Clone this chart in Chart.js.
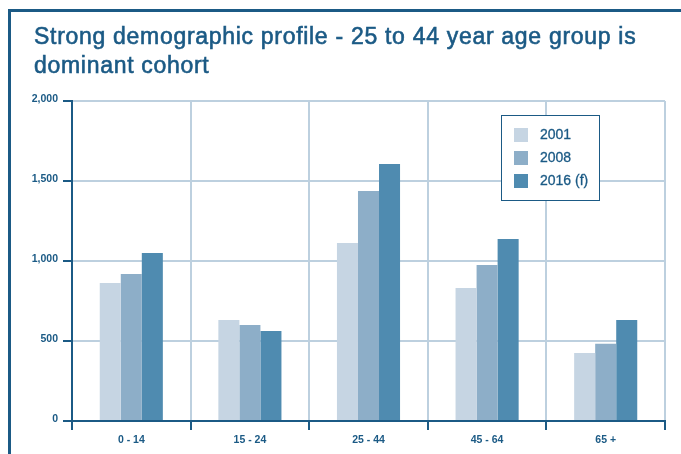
<!DOCTYPE html>
<html>
<head>
<meta charset="utf-8">
<script src="https://cdn.jsdelivr.net/npm/chart.js@4"></script>
<style>
  html, body { margin: 0; padding: 0; background: #fff; }
  #wrap { width: 681px; height: 454px; }
</style>
</head>
<body>
<div id="wrap"><canvas id="mainChart" width="681" height="454"></canvas></div>
<script>
// Données
const categories = ['0 - 14', '15 - 24', '25 - 44', '45 - 64', '65 +'];
const seriesLabels = ['2001', '2008', '2016 (f)'];
const values2001 = [862, 631, 1112, 831, 425];
const values2008 = [919, 600, 1437, 975, 483];
const values2016 = [1050, 562, 1606, 1137, 631];
const yTicks = [0, 500, 1000, 1500, 2000];
const titleLines = ['Strong demographic profile - 25 to 44 year age group is', 'dominant cohort'];

const darkBlue = '#1b5a85';
const gridBlue = '#bdd0df';
const barColors = ['#c6d5e3', '#8daec8', '#4f8bb0'];

// cadre + titre
const framePlugin = {
    id: 'frame',
    beforeDraw(chart) {
        const ctx = chart.ctx;
        ctx.save();
        ctx.fillStyle = '#fff';
        ctx.fillRect(0, 0, chart.width, chart.height);
        ctx.strokeStyle = darkBlue;
        ctx.lineWidth = 3;
        ctx.beginPath();
        ctx.moveTo(9.5, chart.height + 2);
        ctx.lineTo(9.5, 10.5);
        ctx.lineTo(chart.width + 2, 10.5);
        ctx.stroke();
        ctx.fillStyle = darkBlue;
        ctx.strokeStyle = darkBlue;
        ctx.lineWidth = 0.6;
        ctx.font = '23px "Liberation Sans", Arial, sans-serif';
        ctx.letterSpacing = '0.7px';
        ctx.textBaseline = 'alphabetic';
        titleLines.forEach((line, i) => {
            ctx.fillText(line, 34, 44 + i * 29);
            ctx.strokeText(line, 34, 44 + i * 29);
        });
        ctx.restore();
    }
};

// légende dans un cadre
const boxLegendPlugin = {
    id: 'boxLegend',
    afterDraw(chart) {
        const ctx = chart.ctx;
        const x = 501, y = 115, w = 98, h = 85;
        ctx.save();
        ctx.fillStyle = '#fff';
        ctx.fillRect(x, y, w, h);
        ctx.strokeStyle = darkBlue;
        ctx.lineWidth = 1;
        ctx.strokeRect(x + 0.5, y + 0.5, w, h);
        ctx.font = '14px "Liberation Sans", Arial, sans-serif';
        ctx.textBaseline = 'middle';
        chart.data.datasets.forEach((ds, i) => {
            const cy = 135 + i * 23;
            ctx.fillStyle = ds.backgroundColor;
            ctx.fillRect(514, cy - 7, 14, 14);
            ctx.fillStyle = darkBlue;
            ctx.strokeStyle = darkBlue;
            ctx.lineWidth = 0.3;
            ctx.fillText(ds.label, 540, cy);
            ctx.strokeText(ds.label, 540, cy);
        });
        ctx.restore();
    }
};

const seriesValues = [values2001, values2008, values2016];

const chart = new Chart(document.getElementById('mainChart').getContext('2d'), {
    type: 'bar',
    data: {
        labels: categories,
        datasets: seriesLabels.map((label, i) => ({
            label: label,
            data: seriesValues[i],
            backgroundColor: barColors[i],
            borderWidth: 0,
            categoryPercentage: 0.532,
            barPercentage: 1
        }))
    },
    options: {
        responsive: false,
        animation: false,
        layout: { padding: { left: 0, right: 16, top: 101, bottom: 0 } },
        plugins: {
            legend: { display: false },
            tooltip: { enabled: false }
        },
        scales: {
            x: {
                afterFit: (scale) => { scale.height = 33; },
                grid: {
                    offset: true,
                    color: gridBlue,
                    lineWidth: 2,
                    tickColor: darkBlue,
                    tickWidth: 2,
                    tickLength: 9
                },
                border: { color: darkBlue, width: 2 },
                ticks: {
                    color: darkBlue,
                    padding: 4,
                    font: { family: '"Liberation Sans", Arial', size: 10.5, weight: 'bold' }
                }
            },
            y: {
                min: 0,
                max: 2000,
                afterFit: (scale) => { scale.width = 72; },
                afterBuildTicks: (scale) => { scale.ticks = yTicks.map(v => ({ value: v })); },
                grid: {
                    color: gridBlue,
                    lineWidth: 2,
                    tickColor: darkBlue,
                    tickWidth: 2,
                    tickLength: 9
                },
                border: { color: darkBlue, width: 2 },
                ticks: {
                    color: darkBlue,
                    padding: 5,
                    labelOffset: -2,
                    font: { family: '"Liberation Sans", Arial', size: 10.5, weight: 'bold' },
                    callback: (v) => v.toLocaleString('en-US')
                }
            }
        }
    },
    plugins: [framePlugin, boxLegendPlugin]
});
</script>
</body>
</html>
